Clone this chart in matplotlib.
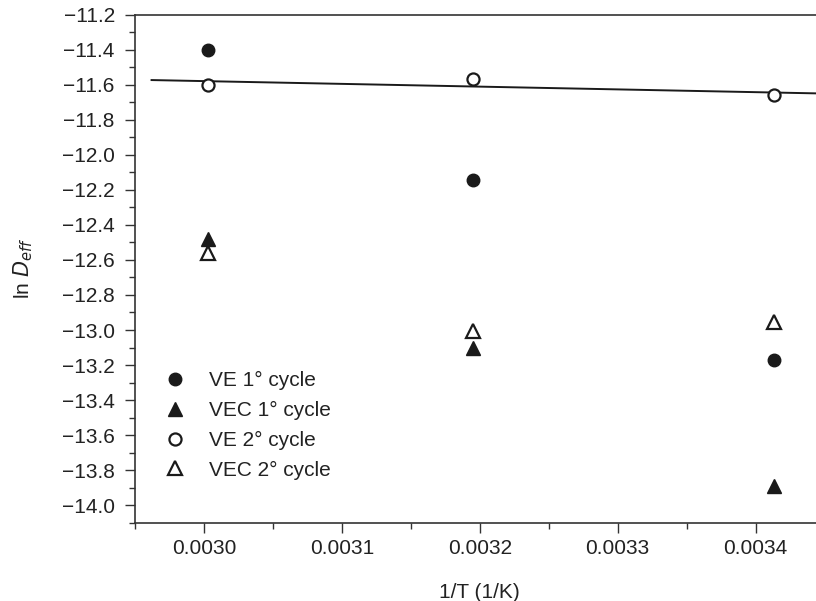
import matplotlib
matplotlib.use("Agg")
import matplotlib.pyplot as plt
from matplotlib.ticker import MultipleLocator, FuncFormatter
import numpy as np

plt.rcParams['font.family'] = ['Liberation Sans', 'DejaVu Sans']
plt.rcParams['axes.unicode_minus'] = True

# Data
inv_T = [0.003003, 0.003195, 0.003413]
ve1 = [-11.40, -12.145, -13.169]
vec1 = [-12.482, -13.101, -13.893]
ve2 = [-11.604, -11.569, -11.659]
vec2 = [-12.559, -13.003, -12.957]
labels = ["VE 1° cycle", "VEC 1° cycle", "VE 2° cycle", "VEC 2° cycle"]
fit_slope = -157.7
fit_intercept = -11.106
fit_x = [0.002962, 0.00345]

W, H = 816, 601
fig = plt.figure(figsize=(W / 100, H / 100), dpi=100)
left, right, top, bottom = 135, 824.6, 14.7, 522.7
aw, ah = right - left, bottom - top
ax = fig.add_axes([left / W, (H - bottom) / H, aw / W, ah / H])

ink = '#1a1a1a'
ms = 9
ax.plot(inv_T, ve1, 'o', color=ink, ms=ms, ls='none', label=labels[0])
ax.plot(inv_T, vec1, '^', color=ink, ms=ms + 1.5, ls='none', label=labels[1])
ax.plot(inv_T, ve2, 'o', mfc='white', mec=ink, mew=1.6, ms=ms - 0.3, ls='none', label=labels[2], zorder=4)
ax.plot(inv_T, vec2, '^', mfc='white', mec=ink, mew=1.6, ms=ms + 0.8, ls='none', label=labels[3])

fx = np.array(fit_x)
ax.plot(fx, fit_slope * fx + fit_intercept, '-', color=ink, lw=1.4, zorder=3)

ax.set_xlim(0.00295, 0.00345)
ax.set_ylim(-14.1, -11.2)
ax.xaxis.set_major_locator(MultipleLocator(0.0001))
ax.xaxis.set_minor_locator(MultipleLocator(0.00005))
ax.yaxis.set_major_locator(MultipleLocator(0.2))
ax.yaxis.set_minor_locator(MultipleLocator(0.1))
ax.xaxis.set_major_formatter(FuncFormatter(lambda v, p: f"{v:.4f}"))
ax.yaxis.set_major_formatter(FuncFormatter(lambda v, p: f"{v:.1f}".replace('-', '\u2212')))

for s in ['top', 'left', 'bottom', 'right']:
    ax.spines[s].set_color('#333333')
    ax.spines[s].set_linewidth(1.2)

fs = 15
ax.tick_params(axis='both', which='major', direction='out', length=7.5, width=1.0,
               colors='#333333', labelsize=fs, labelcolor='#222222')
ax.tick_params(axis='both', which='minor', direction='out', length=4, width=1.0, colors='#333333')
ax.tick_params(axis='x', which='major', pad=4)
ax.tick_params(axis='y', which='major', pad=7)

ax.set_xlabel('1/T (1/K)', fontsize=fs, color='#222222')
ax.set_ylabel(r'ln $\it{D}_{\it{eff}}$', fontsize=fs, color='#222222')
ax.xaxis.set_label_coords(0.5, -(583 - bottom) / ah)
ax.yaxis.set_label_coords((35 - left) / aw, 0.5)

leg = ax.legend(loc='upper left', bbox_to_anchor=((164.6 - left) / aw, (bottom - 371) / ah),
                frameon=False, fontsize=fs, handletextpad=1.13, labelspacing=0.52,
                borderaxespad=0, borderpad=0, handlelength=1.0)
for t in leg.get_texts():
    t.set_color('#222222')

fig.savefig('out.png', dpi=100)
